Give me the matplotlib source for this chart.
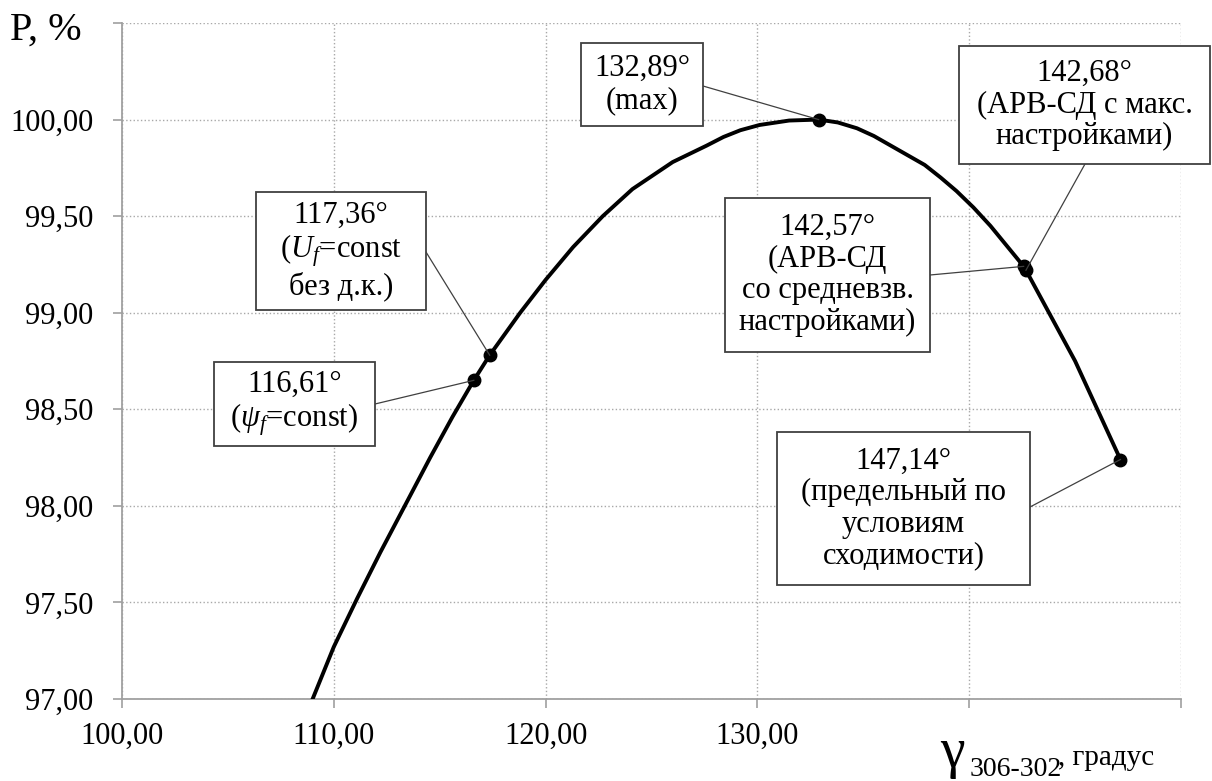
import numpy as np
import matplotlib.pyplot as plt
from matplotlib.patches import Rectangle

plt.rcParams['font.family'] = ['Liberation Serif', 'DejaVu Serif']
plt.rcParams['mathtext.fontset'] = 'custom'
plt.rcParams['mathtext.rm'] = 'Liberation Serif'
plt.rcParams['mathtext.it'] = 'Liberation Serif:italic'

# power vs. angle curve
gamma = [109.0, 110.0, 111.1, 112.2, 113.4, 114.55, 115.6, 116.61, 117.36,
         118.8, 120.0, 121.3, 122.7, 124.1, 126.0, 127.6, 128.4, 129.2,
         130.1, 131.5, 132.89, 133.8, 134.7, 135.5, 136.3, 137.9, 138.65,
         139.4, 140.2, 141.0, 142.57, 142.68, 145.0, 147.14]
power = [97.0, 97.27, 97.52, 97.76, 98.01, 98.25, 98.46, 98.65, 98.78,
         99.0, 99.17, 99.34, 99.5, 99.64, 99.78, 99.865, 99.91, 99.945,
         99.972, 99.995, 100.0, 99.985, 99.955, 99.915, 99.865, 99.765, 99.70,
         99.63, 99.545, 99.45, 99.24, 99.22, 98.75, 98.24]

# marked points
mark_x = [116.61, 117.36, 132.89, 142.57, 142.68, 147.14]
mark_y = [98.65, 98.78, 100.0, 99.24, 99.22, 98.24]
mark_text = [
    "116,61°\n($\\psi_f$=const)",
    "117,36°\n($U_f$=const\nбез д.к.)",
    "132,89°\n(max)",
    "142,57°\n(АРВ-СД\nсо средневзв.\nнастройками)",
    "142,68°\n(АРВ-СД с макс.\nнастройками)",
    "147,14°\n(предельный по\nусловиям\nсходимости)",
]

x_ticks = [100, 110, 120, 130, 140, 150]
x_tick_labels = ["100,00", "110,00", "120,00", "130,00", "", ""]
y_ticks = [97.0, 97.5, 98.0, 98.5, 99.0, 99.5, 100.0, 100.5]
y_tick_labels = ["97,00", "97,50", "98,00", "98,50", "99,00", "99,50",
                 "100,00", ""]

W, H = 1212, 781
fig = plt.figure(figsize=(W / 100, H / 100), dpi=100)
ax = fig.add_axes([122 / W, 1 - 699 / H, (1181 - 122) / W, (699 - 23) / H])

ax.set_xlim(100, 150)
ax.set_ylim(97, 100.5)
ax.set_xticks(x_ticks)
ax.set_xticklabels(x_tick_labels)
ax.set_yticks(y_ticks)
ax.set_yticklabels(y_tick_labels)

ax.grid(True, linestyle=':', color='#a8a8a8', linewidth=1.0)
for s in ['top', 'right']:
    ax.spines[s].set_visible(False)
for s in ['left', 'bottom']:
    ax.spines[s].set_color('#a0a0a0')
    ax.spines[s].set_linewidth(1.3)
ax.tick_params(axis='both', direction='out', length=6.5, width=1.2,
               color='#a0a0a0', labelsize=22)
ax.tick_params(axis='y', pad=14)
ax.tick_params(axis='x', pad=10)

ax.plot(gamma, power, color='black', linewidth=2.8, zorder=3,
        solid_joinstyle='round')
ax.plot(mark_x, mark_y, 'o', color='black', markersize=9, zorder=4)


def px2data(px, py):
    # pixel position from the top-left corner -> data coords
    return ax.transData.inverted().transform((px, H - py))


# label boxes in pixels: left, top, right, bottom, and where the leader starts
boxes = [
    (214, 362, 375, 446, 375, 404),
    (256, 192, 426, 310, 426, 252),
    (581, 43, 703, 126, 703, 86),
    (725, 198, 930, 352, 930, 275),
    (959, 46, 1210, 164, 1085, 164),
    (777, 432, 1030, 585, 1030, 507),
]

for (l, t, r, b, sx, sy), mx, my, txt in zip(boxes, mark_x, mark_y, mark_text):
    x0, y0 = px2data(l, b)
    x1, y1 = px2data(r, t)
    ax.add_patch(Rectangle((x0, y0), x1 - x0, y1 - y0, fc='white',
                           ec='#404040', lw=1.3, zorder=5, clip_on=False))
    lx, ly = px2data(sx, sy)
    ax.plot([lx, mx], [ly, my], color='#404040', lw=0.9, zorder=4.5,
            clip_on=False)
    cx, cy = px2data((l + r) / 2, (t + b) / 2)
    ax.text(cx, cy, txt, ha='center', va='center', fontsize=22,
            linespacing=1.12, zorder=6)

# axis captions
fig.text(10 / W, 1 - 40 / H, "P, %", fontsize=29, ha='left', va='baseline')
fig.text(940 / W, 1 - 767 / H, "γ", fontsize=40, ha='left', va='baseline')
fig.text(970 / W, 1 - 776 / H, "306-302", fontsize=20, ha='left',
         va='baseline')
fig.text(1058 / W, 1 - 765 / H, ", градус", fontsize=21, ha='left',
         va='baseline')

fig.savefig('out.png', dpi=100)
